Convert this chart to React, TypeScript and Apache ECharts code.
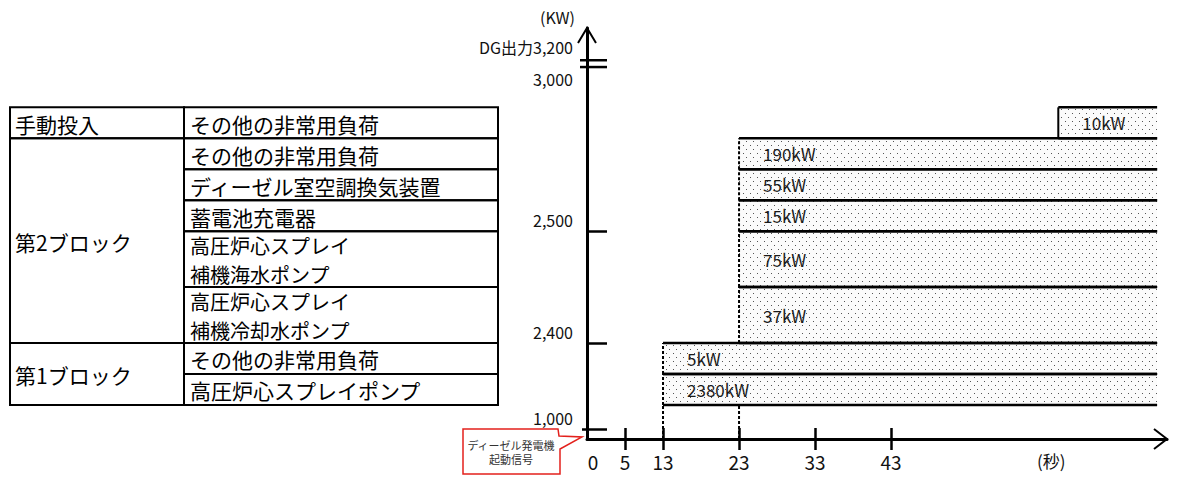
import React, { useEffect, useRef } from "react";
import * as echarts from "echarts";

// ---------------- data (bottom row first) ----------------
const loadNames = [
  "高圧炉心スプレイポンプ",
  "その他の非常用負荷",
  "高圧炉心スプレイ\n補機冷却水ポンプ",
  "高圧炉心スプレイ\n補機海水ポンプ",
  "蓄電池充電器",
  "ディーゼル室空調換気装置",
  "その他の非常用負荷",
  "その他の非常用負荷",
];
const groupNames = [
  "第1ブロック",
  "第1ブロック",
  "第2ブロック",
  "第2ブロック",
  "第2ブロック",
  "第2ブロック",
  "第2ブロック",
  "手動投入",
];
const loadsKW = [2380, 5, 37, 75, 15, 55, 190, 10];
const startTimes = [13, 13, 23, 23, 23, 23, 23, 65]; // 秒
const endTime = 78; // 秒 (right end of drawing)
const timeTicks = [0, 5, 13, 23, 33, 43];
const yTickLabels = ["1,000", "2,400", "2,500", "3,000", "DG出力3,200"];
const manualGroup = "手動投入";

// ---------------- layout ----------------
const FONT = '"Noto Sans CJK JP", "Noto Sans", sans-serif';
const X_MAX = 76.3;
const Y_MAX = 13.26;
const BASE = 1.1;
const rowSpan = loadNames.map((n) => (n.includes("\n") ? 1.8 : 1));
const rowBottoms: number[] = [];
const rowTops: number[] = [];
{
  let acc = BASE;
  rowSpan.forEach((s) => {
    rowBottoms.push(acc);
    acc += s;
    rowTops.push(acc);
  });
}
// broken time axis: 5→13 s is compressed
const toDisplay = (t: number) =>
  t <= 5 ? t : t <= 13 ? 5 + ((t - 5) * 5) / 8 : 10 + (t - 13);

const yLabelPos = [0.32, rowTops[1], rowTops[3], 11.26, 12.29];
const yTickPos = yLabelPos.slice(0, 3);
const xLabelPos = timeTicks.map(toDisplay);
const xTickPos = timeTicks.slice(1).map(toDisplay);
const breakPos = [12.0, 12.22];

const TX0 = 10;
const TX1 = 184;
const TX2 = 498;
const TABLE_FS = 21;
const TABLE_FS2 = 20; // two-line cells
const TABLE_LH2 = 29.5;

export default function App() {
  const ref = useRef<HTMLDivElement>(null);
  useEffect(() => {
    if (!ref.current) return;
    const chart = echarts.init(ref.current, undefined, { renderer: "svg" });

    const cv = document.createElement("canvas");
    cv.width = 7;
    cv.height = 8;
    const ctx = cv.getContext("2d")!;
    ctx.fillStyle = "#fbfbfb";
    ctx.fillRect(0, 0, 7, 8);
    ctx.fillStyle = "#555";
    ctx.fillRect(1, 1, 1, 1);
    ctx.fillRect(4, 5, 1, 1);
    const pattern: any = { image: cv, repeat: "repeat", imageWidth: 7, imageHeight: 8 };

    const blockData = loadsKW.map((kw, i) => [
      toDisplay(startTimes[i]),
      rowBottoms[i],
      toDisplay(endTime),
      rowTops[i],
      kw,
    ]);

    // guides: dashed verticals below the automatic-start blocks
    const guideData: number[][] = [];
    const seen = new Set<number>();
    startTimes.forEach((t, i) => {
      if (groupNames[i] === manualGroup || seen.has(t)) return;
      seen.add(t);
      guideData.push([toDisplay(t), 0, rowBottoms[i]]);
    });

    // group spans for table
    const groupData: number[][] = [];
    const groupLabels: string[] = [];
    groupNames.forEach((g, i) => {
      if (i > 0 && groupNames[i - 1] === g) {
        groupData[groupData.length - 1][1] = rowTops[i];
      } else {
        groupData.push([rowBottoms[i], rowTops[i]]);
        groupLabels.push(g);
      }
    });

    const axisText = { fontFamily: FONT, color: "#111" };

    chart.setOption({
      animation: false,
      backgroundColor: "#ffffff",
      grid: { left: 587, right: 10, top: 28, bottom: 40 },
      xAxis: [
        {
          type: "value",
          min: 0,
          max: X_MAX,
          position: "bottom",
          axisLine: { show: true, onZero: false, lineStyle: { color: "#000", width: 3 } },
          axisTick: {
            show: true,
            length: 11,
            customValues: xTickPos,
            lineStyle: { color: "#000", width: 2.5 },
          },
          axisLabel: {
            show: true,
            customValues: xLabelPos,
            margin: 13,
            fontSize: 19,
            ...axisText,
            formatter: (v: number) => {
              const i = xLabelPos.findIndex((p) => Math.abs(p - v) < 1e-6);
              const s = i >= 0 ? String(timeTicks[i]) : "";
              return v === 0 ? "{z|" + s + "}" : s;
            },
            rich: { z: { padding: [0, 0, 0, 12], fontSize: 19, ...axisText } },
          },
          splitLine: { show: false },
        },
        {
          type: "value",
          min: 0,
          max: X_MAX,
          position: "bottom",
          axisLine: { show: false },
          axisTick: {
            show: true,
            inside: true,
            length: 11,
            customValues: xTickPos,
            lineStyle: { color: "#000", width: 2.5 },
          },
          axisLabel: { show: false },
          splitLine: { show: false },
        },
      ],
      yAxis: [
        {
          type: "value",
          min: 0,
          max: Y_MAX,
          position: "left",
          name: "(KW)",
          nameLocation: "end",
          nameGap: 3,
          nameTextStyle: { fontSize: 16, ...axisText, align: "right", padding: [0, 12, 0, 0] },
          axisLine: { show: true, onZero: false, lineStyle: { color: "#000", width: 3 } },
          axisTick: {
            show: true,
            inside: true,
            length: 20,
            customValues: yTickPos,
            lineStyle: { color: "#000", width: 2.5 },
          },
          axisLabel: {
            show: true,
            customValues: yLabelPos,
            margin: 14,
            fontSize: 16,
            lineHeight: 22,
            verticalAlign: "bottom",
            ...axisText,
            formatter: (v: number) => {
              let best = 0;
              yLabelPos.forEach((p, i) => {
                if (Math.abs(p - v) < Math.abs(yLabelPos[best] - v)) best = i;
              });
              return yTickLabels[best];
            },
          },
          splitLine: { show: false },
        },
        {
          type: "value",
          min: 0,
          max: Y_MAX,
          position: "left",
          axisLine: { show: false },
          axisTick: {
            show: true,
            length: 5,
            customValues: [yLabelPos[0]],
            lineStyle: { color: "#000", width: 2.5 },
          },
          axisLabel: { show: false },
          splitLine: { show: false },
        },
      ],
      series: [
        {
          type: "custom",
          name: "guides",
          z: 1,
          data: guideData,
          renderItem: (params: any, api: any) => {
            const a = api.coord([api.value(0), api.value(1)]);
            const b = api.coord([api.value(0), api.value(2)]);
            return {
              type: "line",
              shape: { x1: a[0], y1: a[1], x2: b[0], y2: b[1] },
              style: { stroke: "#000", lineWidth: 2, lineDash: [3, 2] },
            };
          },
        },
        {
          type: "custom",
          name: "fills",
          z: 2,
          data: blockData,
          renderItem: (params: any, api: any) => {
            const p0 = api.coord([api.value(0), api.value(1)]);
            const p1 = api.coord([api.value(2), api.value(3)]);
            return {
              type: "rect",
              shape: { x: p0[0], y: p1[1], width: p1[0] - p0[0], height: p0[1] - p1[1] },
              style: { fill: pattern },
            };
          },
        },
        {
          type: "custom",
          name: "edges",
          z: 4,
          data: blockData,
          renderItem: (params: any, api: any) => {
            const i = params.dataIndex;
            const p0 = api.coord([api.value(0), api.value(1)]);
            const p1 = api.coord([api.value(2), api.value(3)]);
            const manual = groupNames[i] === manualGroup;
            return {
              type: "group",
              children: [
                {
                  type: "line",
                  shape: { x1: p0[0], y1: p1[1], x2: p1[0], y2: p1[1] },
                  style: { stroke: "#000", lineWidth: 2.5 },
                },
                {
                  type: "line",
                  shape: { x1: p0[0], y1: p0[1], x2: p1[0], y2: p0[1] },
                  style: { stroke: "#000", lineWidth: 2.5 },
                },
                {
                  type: "line",
                  shape: { x1: p0[0], y1: p0[1], x2: p0[0], y2: p1[1] },
                  style: manual
                    ? { stroke: "#000", lineWidth: 2 }
                    : { stroke: "#000", lineWidth: 2, lineDash: [3, 2] },
                },
                {
                  type: "text",
                  x: p0[0] + 24,
                  y: (p0[1] + p1[1]) / 2,
                  style: {
                    text: api.value(4) + "kW",
                    fontSize: 17,
                    fontFamily: FONT,
                    fill: "#1a1a1a",
                    align: "left",
                    verticalAlign: "middle",
                  },
                },
              ],
            };
          },
        },
        {
          type: "custom",
          name: "tableRows",
          z: 2,
          data: loadNames.map((_, i) => [rowBottoms[i], rowTops[i]]),
          renderItem: (params: any, api: any) => {
            const i = params.dataIndex;
            const yb = api.coord([0, api.value(0)])[1];
            const yt = api.coord([0, api.value(1)])[1];
            const lines = loadNames[i].split("\n");
            const multi = lines.length > 1;
            const cy = (yt + yb) / 2 + 1;
            const children: any[] = [
              {
                type: "rect",
                shape: { x: TX1, y: yt, width: TX2 - TX1, height: yb - yt },
                style: { fill: "none", stroke: "#000", lineWidth: 2 },
              },
            ];
            lines.forEach((ln, k) => {
              children.push({
                type: "text",
                x: TX1 + 6,
                y: cy + (k - (lines.length - 1) / 2) * TABLE_LH2,
                style: {
                  text: ln,
                  fontSize: multi ? TABLE_FS2 : TABLE_FS,
                  fontFamily: FONT,
                  fill: "#000",
                  align: "left",
                  verticalAlign: "middle",
                },
              });
            });
            return { type: "group", children };
          },
        },
        {
          type: "custom",
          name: "tableGroups",
          z: 2,
          data: groupData,
          renderItem: (params: any, api: any) => {
            const i = params.dataIndex;
            const yb = api.coord([0, api.value(0)])[1];
            const yt = api.coord([0, api.value(1)])[1];
            return {
              type: "group",
              children: [
                {
                  type: "rect",
                  shape: { x: TX0, y: yt, width: TX1 - TX0, height: yb - yt },
                  style: { fill: "none", stroke: "#000", lineWidth: 2 },
                },
                {
                  type: "text",
                  x: TX0 + 5,
                  y: (yt + yb) / 2 + 1,
                  style: {
                    text: groupLabels[i],
                    fontSize: TABLE_FS,
                    fontFamily: FONT,
                    fill: "#000",
                    align: "left",
                    verticalAlign: "middle",
                  },
                },
              ],
            };
          },
        },
        {
          type: "custom",
          name: "axisDecor",
          z: 5,
          data: [[0, 0]],
          renderItem: (params: any, api: any) => {
            const tx = api.coord([X_MAX, 0]);
            const ty = api.coord([0, Y_MAX]);
            const children: any[] = [
              {
                type: "polyline",
                shape: { points: [[ty[0] - 9, ty[1] + 15], [ty[0], ty[1]], [ty[0] + 9, ty[1] + 15]] },
                style: { stroke: "#000", lineWidth: 2, fill: "none" },
              },
              {
                type: "polyline",
                shape: { points: [[tx[0] - 13, tx[1] - 10], [tx[0], tx[1]], [tx[0] - 13, tx[1] + 10]] },
                style: { stroke: "#000", lineWidth: 2, fill: "none" },
              },
            ];
            breakPos.forEach((b) => {
              const p = api.coord([0, b]);
              children.push({
                type: "line",
                shape: { x1: p[0] - 7, y1: p[1], x2: p[0] + 20, y2: p[1] },
                style: { stroke: "#000", lineWidth: 2.5 },
              });
            });
            return { type: "group", children };
          },
        },
      ],
      graphic: [
        {
          type: "text",
          left: 1037,
          top: 452,
          style: { text: "(秒)", fontSize: 17, fontFamily: FONT, fill: "#111" },
        },
        {
          type: "polygon",
          shape: {
            points: [
              [463, 429],
              [558, 429],
              [559, 436],
              [582, 437],
              [560, 449],
              [560, 474],
              [463, 474],
            ],
          },
          style: { fill: "#fff", stroke: "#e3211c", lineWidth: 1.5 },
          z: 10,
        },
        {
          type: "text",
          x: 511,
          y: 452,
          z: 11,
          style: {
            text: "ディーゼル発電機\n起動信号",
            fontSize: 11,
            lineHeight: 14,
            fontFamily: FONT,
            fill: "#333",
            align: "center",
            verticalAlign: "middle",
          },
        },
      ],
    });
    return () => chart.dispose();
  }, []);
  return (
    <div
      ref={ref}
      style={{ position: "fixed", left: 0, top: 0, width: "1177px", height: "479px" }}
    />
  );
}
